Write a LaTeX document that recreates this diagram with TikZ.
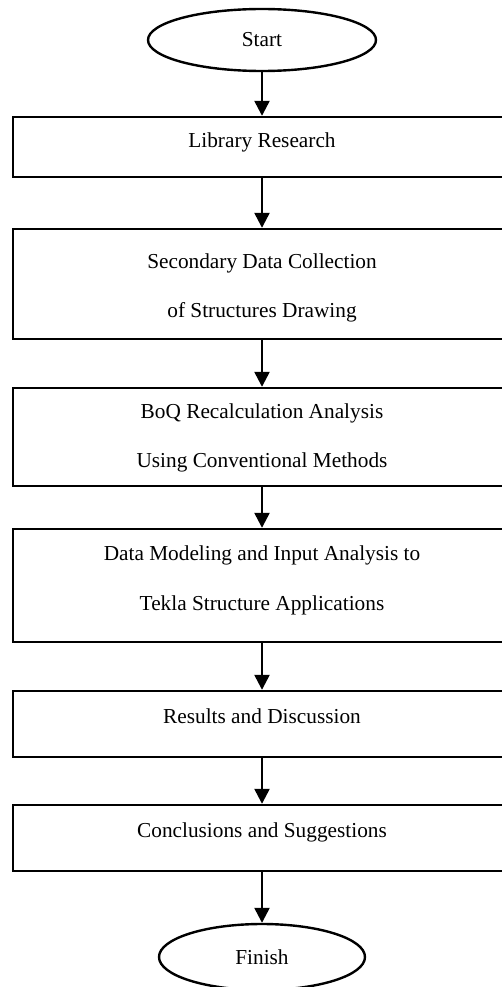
\documentclass[tikz,border=0pt]{standalone}
\usepackage{fontspec}
\setmainfont{Liberation Serif}
\usetikzlibrary{arrows.meta,shapes.geometric}
\begin{document}
\begin{tikzpicture}[x=1pt,y=-1pt,
  box/.style={draw,line width=2.4pt,rectangle,minimum width=498pt,inner sep=0pt},
  term/.style={draw,line width=2.4pt,ellipse,inner sep=0pt,font=\fontsize{21.3}{25}\selectfont},
  lbl/.style={anchor=base,inner sep=0pt,font=\fontsize{21.3}{25}\selectfont},
  flow/.style={line width=2.4pt,-{Triangle[width=15pt,length=15pt]}}]
\clip (0,0) rectangle (502,987);
\fill[white] (0,0) rectangle (502,987);
% terminals
\node[term,minimum width=228pt,minimum height=62pt] (start) at (262,40) {Start};
\node[term,minimum width=206pt,minimum height=66pt] (finish) at (262,957) {Finish};
% boxes
\node[box,minimum height=60pt]  (lib)  at (262,147)   {};
\node[box,minimum height=110pt] (sec)  at (262,284)   {};
\node[box,minimum height=98pt]  (boq)  at (262,437)   {};
\node[box,minimum height=113pt] (data) at (262,585.5) {};
\node[box,minimum height=66pt]  (res)  at (262,724)   {};
\node[box,minimum height=66pt]  (conc) at (262,838)   {};
% labels
\node[lbl] (libA)  at (262,148) {Library Research};
\node[lbl] (secA)  at (262,268) {Secondary Data Collection};
\node[lbl] (secB)  at (262,317) {of Structures Drawing};
\node[lbl] (boqA)  at (262,418) {BoQ Recalculation Analysis};
\node[lbl] (boqB)  at (262,467) {Using Conventional Methods};
\node[lbl] (dataA) at (262,560) {Data Modeling and Input Analysis to};
\node[lbl] (dataB) at (262,610) {Tekla Structure Applications};
\node[lbl] (resA)  at (262,723) {Results and Discussion};
\node[lbl] (concA) at (262,837) {Conclusions and Suggestions};
% connectors
\draw[flow] (start.south) -- (lib.north);
\draw[flow] (lib.south) -- (sec.north);
\draw[flow] (sec.south) -- (boq.north);
\draw[flow] (boq.south) -- (data.north);
\draw[flow] (data.south) -- (res.north);
\draw[flow] (res.south) -- (conc.north);
\draw[flow] (conc.south) -- (finish.north);
\end{tikzpicture}
\end{document}
